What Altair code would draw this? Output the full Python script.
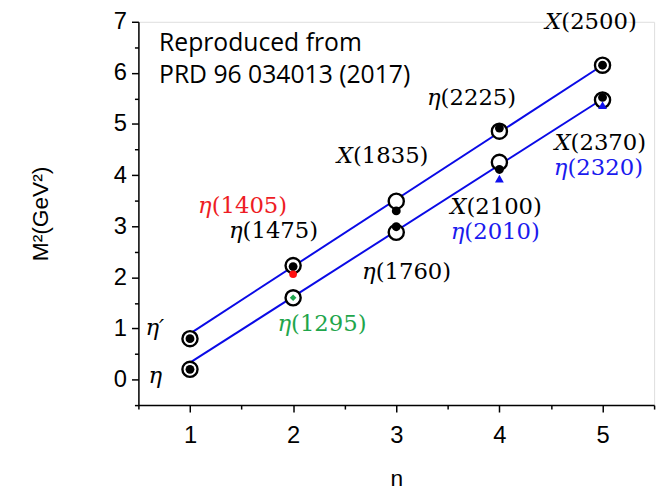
import altair as alt
import pandas as pd

# ---- data ----
n_vals = [1, 2, 3, 4, 5]
upper_theory = [0.80, 2.23, 3.49, 4.86, 6.15]
lower_theory = [0.20, 1.60, 2.88, 4.25, 5.47]

line_n = [1, 5]
upper_line = [0.90, 6.15]
lower_line = [0.33, 5.49]

exp_n = [1, 1, 2, 3, 3, 4, 4, 5, 5]
exp_m2 = [0.20, 0.80, 2.21, 3.30, 2.99, 4.92, 4.11, 6.15, 5.52]

red_n = [2]
red_m2 = [2.06]
green_n = [2]
green_m2 = [1.60]
blue_n = [4, 5]
blue_m2 = [3.93, 5.37]

label_prefix = ["η′", "η", "η", "η", "η", "X", "η", "X", "η", "η", "X", "η", "X"]
label_suffix = ["", "", "(1405)", "(1475)", "(1295)", "(1835)", "(1760)",
                "(2100)", "(2010)", "(2225)", "(2370)", "(2320)", "(2500)"]
label_x = [0.75, 0.73, 1.21, 1.51, 1.98, 2.58, 2.80, 3.68, 3.66, 3.43, 4.69, 4.66, 4.60]
label_y = [1.00, 0.06, 3.40, 2.90, 1.08, 4.37, 2.11, 3.38, 2.88, 5.51, 4.62, 4.14, 7.00]
label_color = ["black", "black", "#ee1c24", "black", "#1fa64c", "black", "black",
               "black", "#1a1aee", "black", "black", "#1a1aee", "black"]

note_lines = ["Reproduced from", "PRD 96 034013 (2017)"]
note_x = [0.70, 0.70]
note_y = [6.59, 5.96]

stray_text = [")"]
stray_x = [-0.81]
stray_y = [-1.66]

# ---- tables ----
theory = pd.DataFrame({"n": n_vals * 2, "m2": upper_theory + lower_theory})
lines = pd.DataFrame({"n": line_n * 2, "m2": upper_line + lower_line,
                      "traj": ["upper"] * 2 + ["lower"] * 2})
exp = pd.DataFrame({"n": exp_n, "m2": exp_m2})
red = pd.DataFrame({"n": red_n, "m2": red_m2})
green = pd.DataFrame({"n": green_n, "m2": green_m2})
blue = pd.DataFrame({"n": blue_n, "m2": blue_m2})
labels = pd.DataFrame({"x": label_x, "y": label_y, "pre": label_prefix,
                       "suf": label_suffix, "c": label_color})
notes = pd.DataFrame({"x": note_x, "y": note_y, "t": note_lines})
stray = pd.DataFrame({"x": stray_x, "y": stray_y, "t": stray_text})

half_x = [0.5 + 0.5 * i for i in range(11)]
half_y = [-0.5 + 0.5 * i for i in range(16)]

tick_cond = {"condition": {"test": "datum.value % 1 === 0", "value": 7}, "value": 4}
lab_expr = "datum.value % 1 === 0 ? format(datum.value, 'd') : ''"

xscale = alt.Scale(domain=[0.5, 5.5], nice=False, zero=False)
yscale = alt.Scale(domain=[-0.5, 7], nice=False, zero=False)

xaxis = alt.Axis(values=half_x, title="n", labelExpr=lab_expr, tickSize=tick_cond,
                 grid=False, labelFont="Liberation Sans", labelFontSize=24,
                 titleFont="Liberation Sans", titleFontSize=23, titleFontWeight="normal",
                 labelPadding=12, titlePadding=20, labelFlush=False, labelOverlap=False,
                 domainColor="black", domainWidth=1.5, tickColor="black", tickWidth=1.5,
                 labelColor="black", titleColor="black")
yaxis = alt.Axis(values=half_y, title="M²(GeV²)", labelExpr=lab_expr, tickSize=tick_cond,
                 grid=False, labelFont="Liberation Sans", labelFontSize=24,
                 titleFont="Liberation Sans", titleFontSize=23, titleFontWeight="normal",
                 labelPadding=5, titlePadding=62, labelFlush=False, labelOverlap=False,
                 domainColor="black", domainWidth=1.5, tickColor="black", tickWidth=1.5,
                 labelColor="black", titleColor="black")

X = lambda f="n": alt.X(f"{f}:Q", scale=xscale, axis=xaxis)
Y = lambda f="m2": alt.Y(f"{f}:Q", scale=yscale, axis=yaxis)

line_layer = alt.Chart(lines).mark_line(color="#0a0ae6", strokeWidth=2).encode(
    x=X(), y=Y(), detail="traj:N")
circ_layer = alt.Chart(theory).mark_point(shape="circle", size=235, filled=True,
                                          fill="white", stroke="black", strokeWidth=2.4,
                                          opacity=1).encode(x=X(), y=Y())
exp_layer = alt.Chart(exp).mark_point(shape="circle", size=80, filled=True,
                                      color="black", opacity=1).encode(x=X(), y=Y())
red_layer = alt.Chart(red).mark_point(shape="circle", size=60, filled=True,
                                      color="#ff1010", opacity=1).encode(x=X(), y=Y())
green_layer = alt.Chart(green).mark_point(shape="diamond", size=45, filled=True,
                                          color="#1fa64c", opacity=1).encode(x=X(), y=Y())
blue_layer = alt.Chart(blue).mark_point(shape="triangle-up", size=80, filled=True,
                                        color="#1010ee", opacity=1).encode(x=X(), y=Y())

pre_layer = alt.Chart(labels).mark_text(font="DejaVu Serif", fontSize=23, fontStyle="italic",
                                        align="right", baseline="middle").encode(
    x=X("x"), y=Y("y"), text="pre:N", color=alt.Color("c:N", scale=None))
suf_layer = alt.Chart(labels).mark_text(font="DejaVu Serif", fontSize=23,
                                        align="left", baseline="middle").encode(
    x=X("x"), y=Y("y"), text="suf:N", color=alt.Color("c:N", scale=None))
note_layer = alt.Chart(notes).mark_text(font="Open Sans", fontSize=25, align="left",
                                        baseline="middle", color="black").encode(
    x=X("x"), y=Y("y"), text="t:N")
stray_layer = alt.Chart(stray).mark_text(font="Noto Sans", fontSize=42, align="right",
                                         baseline="middle", color="black").encode(
    x=X("x"), y=Y("y"), text="t:N")

chart = alt.layer(line_layer, circ_layer, exp_layer, red_layer, green_layer, blue_layer,
                  pre_layer, suf_layer, note_layer, stray_layer).properties(
    width=522, height=388,
    padding={"left": 132, "top": 11, "right": 9, "bottom": 85},
    autosize=alt.AutoSizeParams(type="none"),
).configure_view(stroke="black", strokeWidth=1.5).configure(background="white")

chart.save("out.html", embed_options={"renderer": "svg", "actions": False})
